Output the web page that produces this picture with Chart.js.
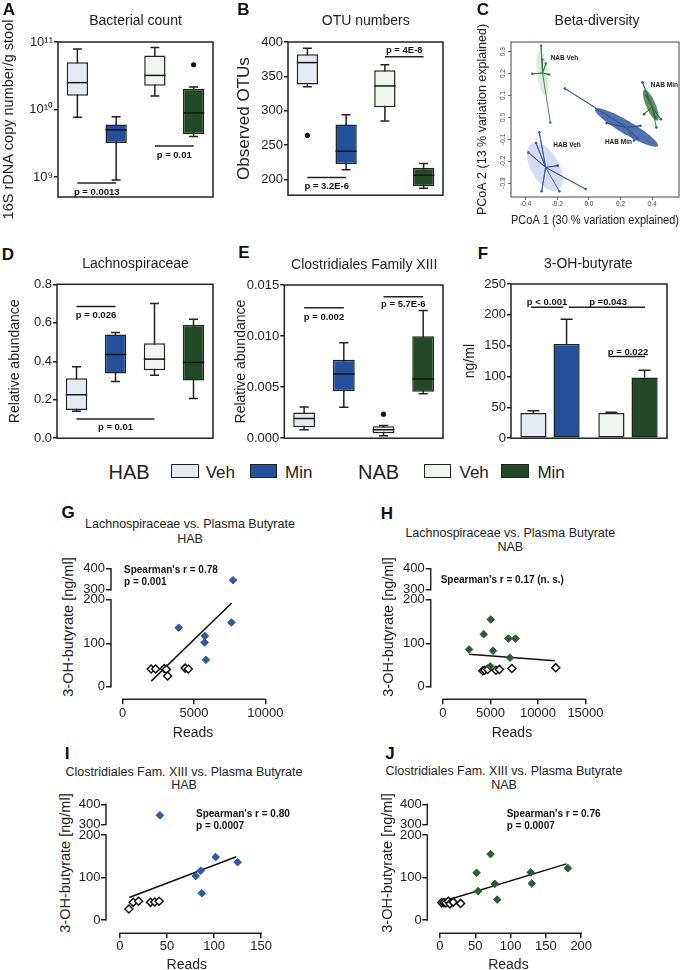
<!DOCTYPE html>
<html lang="en">
<head>
<meta charset="UTF-8">
<title>Microbiota, Lachnospiraceae and plasma butyrate</title>
<script src="https://cdn.jsdelivr.net/npm/chart.js"></script>
<style>
  html, body { margin: 0; padding: 0; background: #fff; overflow: hidden; }
  #fig { position: relative; width: 685px; height: 970px; overflow: hidden;
         font-family: "Liberation Sans", Arial, Helvetica, sans-serif; color: #222; }
  canvas, .t, .sw { position: absolute; }
  .t { white-space: nowrap; line-height: 1; transform: translate(-50%, -50%); }
  .letter { font-weight: bold; font-size: 17px; color: #111; }
  .ttl { font-size: 14px; }
  .sub { font-size: 12.5px; }
  .stat { font-weight: bold; font-size: 10px; color: #111; transform: translate(0, -50%); }
  .ylab { font-size: 14.5px; transform: translate(-50%, -50%) rotate(-90deg); }
  .legBig { font-size: 20px; transform: translate(0, -50%); }
  .leg { font-size: 17px; transform: translate(0, -50%); }
  .sw { border: 1.5px solid #222; box-sizing: border-box; height: 14px; top: 464px; }
</style>
</head>
<body>
<div id="fig"></div>
<script>
// ---------- data ----------
const groups = ['HAB Veh', 'HAB Min', 'NAB Veh', 'NAB Min'];
const groupFill = ['#e4ecf2', '#244f9b', '#f1f7ef', '#224925'];

// A  bacterial count
const aMin = [7.7e9, 9.0e8, 1.58e10, 4.0e9];
const aQ1  = [1.6e10, 3.2e9, 2.24e10, 4.3e9];
const aMed = [2.5e10, 5.0e9, 3.2e10, 8.9e9];
const aQ3  = [5.0e10, 6.0e9, 6.3e10, 2.03e10];
const aMax = [7.9e10, 7.8e9, 8.3e10, 2.15e10];
const aOutGroup = ['NAB Min'];
const aOutValue = [4.6e10];
const aTicks = [1e9, 1e10, 1e11];
const aTickLabels = ['10⁹', '10¹⁰', '10¹¹'];

// B  OTU numbers
const bMin = [335, 214, 285, 187];
const bQ1  = [338, 222, 305, 190];
const bMed = [370, 241, 336, 206];
const bQ3  = [382, 280, 359, 217];
const bMax = [391, 294, 367, 223];
const bOutGroup = ['HAB Veh'];
const bOutValue = [264];
const bTicks = [200, 250, 300, 350, 400];

// D  Lachnospiraceae
const dMin = [0.140, 0.295, 0.327, 0.207];
const dQ1  = [0.147, 0.336, 0.353, 0.300];
const dMed = [0.226, 0.435, 0.411, 0.394];
const dQ3  = [0.312, 0.539, 0.494, 0.589];
const dMax = [0.372, 0.550, 0.700, 0.618];
const dTicks = [0, 0.2, 0.4, 0.6, 0.8];

// E  Clostridiales Family XIII
const eMin = [0.00083, 0.00303, 0.00025, 0.00435];
const eQ1  = [0.00106, 0.00460, 0.00048, 0.00455];
const eMed = [0.00193, 0.00629, 0.00083, 0.00580];
const eQ3  = [0.00251, 0.00767, 0.00116, 0.00997];
const eMax = [0.00306, 0.00934, 0.00125, 0.01250];
const eOutGroup = ['NAB Veh'];
const eOutValue = [0.00235];
const eTicks = [0, 0.005, 0.010, 0.015];

// F  3-OH-butyrate (mean + SEM)
const fGroups = ['HAB', 'NAB'];
const fVehMean = [40.8, 40.8];
const fVehSem  = [3.7, 1.2];
const fMinMean = [152.6, 98.4];
const fMinSem  = [40.4, 11.6];
const fTicks = [0, 50, 100, 150, 200, 250];

// C  PCoA
const cXTicks = [-0.4, -0.2, 0, 0.2, 0.4];
const cYTicks = [-0.3, -0.2, -0.1, 0, 0.1, 0.2, 0.3];
const cGroups = ['NAB Veh', 'NAB Min', 'HAB Min', 'HAB Veh'];
const cCentroid = [[-0.293, 0.202], [0.400, 0.048], [0.238, -0.046], [-0.274, -0.228]];
const nabVehPC = [[-0.303, 0.327], [-0.295, 0.263], [-0.272, 0.246], [-0.358, 0.199], [-0.251, 0.196], [-0.244, -0.023]];
const nabMinPC = [[0.339, 0.160], [0.364, 0.098], [0.349, 0.015], [0.421, -0.003], [0.455, -0.008], [0.427, -0.046]];
const habMinPC = [[-0.152, 0.132], [0.112, -0.026], [0.326, -0.038], [0.307, -0.096], [0.286, -0.105]];
const habVehPC = [[-0.314, -0.068], [-0.335, -0.117], [-0.383, -0.160], [-0.198, -0.220], [-0.021, -0.327], [-0.299, -0.337], [-0.187, -0.337]];
const cEllCentre = [[-0.293, 0.202], [0.392, 0.056], [0.238, -0.046], [-0.278, -0.225]];
const cEllMajor  = [[0.017, -0.103], [0.042, -0.070], [0.198, -0.084], [0.084, -0.106]];
const cEllMinor  = [[0.034, 0.003], [-0.027, -0.009], [-0.021, -0.026], [-0.077, -0.032]];
const cLabelPos  = [[-0.242, 0.269], [0.392, 0.147], [0.101, -0.111], [-0.225, -0.129]];

// G  Lachnospiraceae reads vs butyrate, HAB
const gMinReads = [3925, 5760, 5740, 5830, 7620, 7730];
const gMinButyrate = [136, 117, 102, 62, 148, 345];
const gVehReads = [2000, 2310, 2920, 3060, 3150, 4380, 4600];
const gVehButyrate = [41, 41, 42, 40, 25, 43, 41];
const gFitReads = [2000, 7640];
const gFitButyrate = [13, 193];
const gXTicks = [0, 5000, 10000];

// H  Lachnospiraceae reads vs butyrate, NAB
const hMinReads = [2750, 4290, 5030, 5270, 6890, 7630, 7050, 4970];
const hMinButyrate = [86, 121, 155, 83, 111, 111, 67, 47];
const hVehReads = [4190, 4390, 4700, 5580, 5940, 7250, 11870];
const hVehButyrate = [37, 38, 40, 38, 40, 42, 44];
const hFitReads = [2750, 11770];
const hFitButyrate = [75, 60];
const hXTicks = [0, 5000, 10000, 15000];

// I  Clostridiales Fam. XIII reads vs butyrate, HAB
const iMinReads = [42.4, 80.5, 85.8, 101.7, 86.9, 125];
const iMinButyrate = [345, 103.5, 116, 148, 63, 136];
const iVehReads = [9.5, 14.1, 19.8, 32.5, 37, 41.6];
const iVehButyrate = [26, 41.6, 44, 41.6, 42.4, 44];
const iFitReads = [9.9, 123.6];
const iFitButyrate = [53, 149];
const iXTicks = [0, 50, 100, 150];

// J  Clostridiales Fam. XIII reads vs butyrate, NAB
const jMinReads = [51.8, 71.6, 54.1, 77.7, 81, 128.5, 130, 181];
const jMinButyrate = [111, 155, 68, 85, 48, 112, 86, 122];
const jVehReads = [2.4, 5.6, 8.5, 11.8, 14.1, 18.8, 29.2];
const jVehButyrate = [41, 41, 40, 44, 38, 42, 39];
const jFitReads = [14.1, 179];
const jFitButyrate = [48.7, 132];
const jXTicks = [0, 50, 100, 150, 200];

const butyrateBotTicks = [0, 100, 200];
const butyrateTopTicks = [300, 400];

// ---------- setup ----------
const FONT = "'Liberation Sans', Arial, Helvetica, sans-serif";
Chart.defaults.font.family = FONT;
Chart.defaults.color = '#222';
Chart.defaults.animation = false;
Chart.defaults.plugins.legend.display = false;
Chart.defaults.plugins.tooltip.enabled = false;

const fig = document.getElementById('fig');

function canvasAt(left, top, w, h) {
  const c = document.createElement('canvas');
  c.width = w; c.height = h;
  c.style.left = left + 'px'; c.style.top = top + 'px';
  c.style.width = w + 'px'; c.style.height = h + 'px';
  fig.appendChild(c);
  return c;
}

function text(cls, str, x, y, extra) {
  const d = document.createElement('div');
  d.className = 't ' + cls;
  d.textContent = str;
  d.style.left = x + 'px'; d.style.top = y + 'px';
  if (extra) Object.assign(d.style, extra);
  fig.appendChild(d);
}

const setTicks = list => s => { s.ticks = list.map(v => ({ value: v })); };

// ---------- plugins ----------
function framePlugin(color, width) {
  return {
    id: 'frame',
    afterDraw(ch) {
      const a = ch.chartArea, g = ch.ctx;
      g.save();
      g.strokeStyle = color; g.lineWidth = width;
      g.strokeRect(a.left, a.top, a.right - a.left, a.bottom - a.top);
      g.restore();
    }
  };
}

function boxPlugin(mins, meds, maxs) {
  return {
    id: 'boxes',
    beforeDatasetsDraw(ch) {
      const meta = ch.getDatasetMeta(0), ys = ch.scales.y, g = ch.ctx;
      g.save(); g.strokeStyle = '#222'; g.lineWidth = 1.5;
      meta.data.forEach((el, i) => {
        const cap = el.width * 0.21;
        const y0 = ys.getPixelForValue(mins[i]), y1 = ys.getPixelForValue(maxs[i]);
        g.beginPath();
        g.moveTo(el.x, y0); g.lineTo(el.x, y1);
        g.moveTo(el.x - cap, y0); g.lineTo(el.x + cap, y0);
        g.moveTo(el.x - cap, y1); g.lineTo(el.x + cap, y1);
        g.stroke();
      });
      g.restore();
    },
    afterDatasetsDraw(ch) {
      const meta = ch.getDatasetMeta(0), ys = ch.scales.y, g = ch.ctx;
      g.save(); g.strokeStyle = '#151515'; g.lineWidth = 1.5;
      meta.data.forEach((el, i) => {
        const y = ys.getPixelForValue(meds[i]);
        g.beginPath();
        g.moveTo(el.x - el.width / 2, y); g.lineTo(el.x + el.width / 2, y);
        g.stroke();
      });
      g.restore();
    }
  };
}

function pLinePlugin(list) {
  return {
    id: 'pLines',
    afterDatasetsDraw(ch) {
      const xs = ch.scales.x, ys = ch.scales.y, g = ch.ctx;
      g.save();
      g.strokeStyle = '#222'; g.lineWidth = 1.5; g.fillStyle = '#111';
      g.font = 'bold 9.5px ' + FONT; g.textAlign = 'center'; g.textBaseline = 'middle';
      list.forEach(p => {
        const x1 = xs.getPixelForValue(p.a), x2 = xs.getPixelForValue(p.b), y = ys.getPixelForValue(p.y);
        g.beginPath(); g.moveTo(x1, y); g.lineTo(x2, y); g.stroke();
        const tx = p.tx !== undefined ? xs.getPixelForValue(p.tx) : (x1 + x2) / 2;
        g.fillText(p.text, tx, y + p.dy);
      });
      g.restore();
    }
  };
}

function errPlugin(sems) {
  return {
    id: 'errBars',
    afterDatasetsDraw(ch) {
      const ys = ch.scales.y, g = ch.ctx;
      g.save(); g.strokeStyle = '#222'; g.lineWidth = 1.5;
      sems.forEach((arr, di) => {
        const meta = ch.getDatasetMeta(di);
        meta.data.forEach((el, i) => {
          const v = ch.data.datasets[di].data[i] + arr[i];
          const y = ys.getPixelForValue(v), cap = el.width * 0.23;
          g.beginPath();
          g.moveTo(el.x, el.y); g.lineTo(el.x, y);
          g.moveTo(el.x - cap, y); g.lineTo(el.x + cap, y);
          g.stroke();
        });
      });
      g.restore();
    }
  };
}

const axisLines = {
  id: 'axisLines',
  afterDraw(ch) {
    const g = ch.ctx;
    g.save(); g.strokeStyle = '#222'; g.lineWidth = 1.5; g.lineCap = 'square';
    Object.values(ch.scales).forEach(s => {
      if (!s.ticks.length) return;
      const p0 = s.getPixelForValue(s.ticks[0].value);
      const p1 = s.getPixelForValue(s.ticks[s.ticks.length - 1].value);
      g.beginPath();
      if (s.isHorizontal()) { g.moveTo(p0, s.top); g.lineTo(p1, s.top); }
      else { g.moveTo(s.right, p0); g.lineTo(s.right, p1); }
      g.stroke();
    });
    g.restore();
  }
};

// rotated (bottom-to-top) tick labels on the left axis, as R draws them
const rotatedYTicks = {
  id: 'rotatedYTicks',
  afterDraw(ch) {
    const s = ch.scales.y, g = ch.ctx;
    g.save();
    g.fillStyle = '#444'; g.font = '6.5px ' + FONT;
    g.textAlign = 'center'; g.textBaseline = 'middle';
    s.ticks.forEach(t => {
      g.save();
      g.translate(s.right - 8, s.getPixelForValue(t.value));
      g.rotate(-Math.PI / 2);
      g.fillText(t.value.toFixed(1), 0, 0);
      g.restore();
    });
    g.restore();
  }
};

// ---------- box plot panels ----------
function boxChart(cv, st, o) {
  const datasets = [{
    data: st.q1.map((q, i) => [q, st.q3[i]]),
    backgroundColor: groupFill, borderColor: '#222', borderWidth: 1.5,
    borderSkipped: false, barPercentage: 0.55, categoryPercentage: 1
  }];
  if (st.outG) datasets.push({
    type: 'scatter',
    data: st.outG.map((g, i) => ({ x: g, y: st.outV[i] })),
    pointRadius: 2.6, backgroundColor: '#111', borderWidth: 0
  });
  return new Chart(cv, {
    type: 'bar',
    data: { labels: groups, datasets },
    options: {
      responsive: false, devicePixelRatio: 1,
      layout: { padding: o.pad },
      scales: {
        x: { display: false },
        y: {
          type: o.type || 'linear', position: 'left', min: o.min, max: o.max,
          afterBuildTicks: setTicks(o.ticks),
          border: { display: false },
          grid: { drawOnChartArea: false, tickLength: 4, color: '#222', lineWidth: 1.5 },
          ticks: { font: { size: 13 }, color: '#222', padding: 1, callback: o.fmt },
          title: { display: true, text: o.title, font: { size: o.tSize }, padding: { top: o.tPad, bottom: 0 } },
          afterFit: s => { s.width = o.yW; }
        }
      }
    },
    plugins: [boxPlugin(st.min, st.med, st.max), pLinePlugin(o.pLines), framePlugin('#222', 1.5)]
  });
}

boxChart(canvasAt(0, 0, 220, 224),
  { min: aMin, q1: aQ1, med: aMed, q3: aQ3, max: aMax, outG: aOutGroup, outV: aOutValue },
  { type: 'logarithmic', min: 5.06e8, max: 1e11, ticks: aTicks, fmt: (v, i) => aTickLabels[i],
    pad: { top: 42, right: 7, bottom: 27, left: 0 }, yW: 58,
    title: '16S rDNA copy number/g stool', tSize: 14.5, tPad: 0,
    pLines: [{ a: 0, b: 1, y: 8.15e8, text: 'p = 0.0013', dy: 9 },
             { a: 2, b: 3, y: 2.88e9, text: 'p = 0.01', dy: 9 }] });

boxChart(canvasAt(228, 28, 220, 176),
  { min: bMin, q1: bQ1, med: bMed, q3: bQ3, max: bMax, outG: bOutGroup, outV: bOutValue },
  { min: 177, max: 400, ticks: bTicks, fmt: v => String(v),
    pad: { top: 14, right: 5, bottom: 7, left: 0 }, yW: 60,
    title: 'Observed OTUs', tSize: 17, tPad: 5.8,
    pLines: [{ a: 0, b: 1, y: 202.6, text: 'p = 3.2E-6', dy: 9 },
             { a: 2, b: 3, y: 378.4, text: 'p = 4E-8', dy: -6 }] });

boxChart(canvasAt(0, 270, 220, 177),
  { min: dMin, q1: dQ1, med: dMed, q3: dQ3, max: dMax },
  { min: 0, max: 0.8, ticks: dTicks, fmt: v => v.toFixed(1),
    pad: { top: 14.3, right: 7, bottom: 7.7, left: 0 }, yW: 57,
    title: 'Relative abundance', tSize: 14, tPad: 6.6,
    pLines: [{ a: 0, b: 1, y: 0.684, text: 'p = 0.026', dy: 8.3 },
             { a: 0, b: 2, y: 0.0996, text: 'p = 0.01', dy: 8.3 }] });

boxChart(canvasAt(228, 270, 220, 177),
  { min: eMin, q1: eQ1, med: eMed, q3: eQ3, max: eMax, outG: eOutGroup, outV: eOutValue },
  { min: 0, max: 0.015, ticks: eTicks, fmt: v => v.toFixed(3),
    pad: { top: 15, right: 5, bottom: 7.7, left: 0 }, yW: 56.3,
    title: 'Relative abundance', tSize: 14, tPad: 5.1,
    pLines: [{ a: 0, b: 1, y: 0.01277, text: 'p = 0.002', dy: 9.3 },
             { a: 2, b: 3, y: 0.01386, text: 'p = 5.7E-6', dy: 7.3 }] });

// ---------- F bars ----------
new Chart(canvasAt(458, 270, 227, 177), {
  type: 'bar',
  data: {
    labels: fGroups,
    datasets: [
      { data: fVehMean, backgroundColor: [groupFill[0], groupFill[2]], borderColor: '#222', borderWidth: 1.5,
        borderSkipped: false, categoryPercentage: 0.85, barPercentage: 0.79 },
      { data: fMinMean, backgroundColor: [groupFill[1], groupFill[3]], borderColor: '#222', borderWidth: 1.5,
        borderSkipped: false, categoryPercentage: 0.85, barPercentage: 0.79 }
    ]
  },
  options: {
    responsive: false, devicePixelRatio: 1,
    layout: { padding: { top: 14, right: 18, bottom: 7.7, left: 0 } },
    scales: {
      x: { display: false },
      y: {
        position: 'left', min: 0, max: 250, afterBuildTicks: setTicks(fTicks),
        border: { display: false },
        grid: { drawOnChartArea: false, tickLength: 4, color: '#222', lineWidth: 1.5 },
        ticks: { font: { size: 13 }, color: '#222', padding: 1, callback: v => String(v) },
        title: { display: true, text: 'ng/ml', font: { size: 14 }, padding: { top: 3.6, bottom: 0 } },
        afterFit: s => { s.width = 53; }
      }
    }
  },
  plugins: [errPlugin([fVehSem, fMinSem]),
    pLinePlugin([{ a: -0.244, b: 0.167, y: 212.3, text: 'p < 0.001', tx: -0.038, dy: -4.5 },
                 { a: 0.244, b: 1.218, y: 212.3, text: 'p =0.043', tx: 0.744, dy: -4.5 },
                 { a: 0.763, b: 1.22, y: 132.3, text: 'p = 0.022', tx: 1.0, dy: -4.5 }]),
    framePlugin('#222', 1.5)]
});

// ---------- C PCoA ----------
const cPts = [nabVehPC, nabMinPC, habMinPC, habVehPC];
const cLine = ['#3a7a4a', '#2f6a3c', '#2f55a0', '#3558a3'];
const cFill = ['rgba(208,228,205,0.75)', '#5b8f65', '#5270ad', 'rgba(204,213,240,0.8)'];
const ellipses = {
  id: 'ellipses',
  beforeDatasetsDraw(ch) {
    const xs = ch.scales.x, ys = ch.scales.y, g = ch.ctx;
    g.save();
    cEllCentre.forEach((c, k) => {
      const a = cEllMajor[k], b = cEllMinor[k];
      g.beginPath();
      for (let s = 0; s <= 72; s++) {
        const t = s / 72 * 2 * Math.PI;
        const px = xs.getPixelForValue(c[0] + a[0] * Math.cos(t) + b[0] * Math.sin(t));
        const py = ys.getPixelForValue(c[1] + a[1] * Math.cos(t) + b[1] * Math.sin(t));
        if (s) g.lineTo(px, py); else g.moveTo(px, py);
      }
      g.closePath(); g.fillStyle = cFill[k]; g.fill();
    });
    g.restore();
  },
  afterDatasetsDraw(ch) {
    const xs = ch.scales.x, ys = ch.scales.y, g = ch.ctx;
    g.save(); g.fillStyle = '#222'; g.font = 'bold 6.5px ' + FONT;
    g.textAlign = 'left'; g.textBaseline = 'middle';
    cLabelPos.forEach((p, k) => g.fillText(cGroups[k], xs.getPixelForValue(p[0]), ys.getPixelForValue(p[1])));
    g.restore();
  }
};
new Chart(canvasAt(458, 0, 232, 232), {
  type: 'scatter',
  data: {
    datasets: cPts.map((pts, k) => ({
      data: pts.flatMap(p => [{ x: cCentroid[k][0], y: cCentroid[k][1] }, { x: p[0], y: p[1] }]),
      showLine: true, borderColor: cLine[k], borderWidth: 0.9, backgroundColor: cLine[k],
      pointRadius: ctx => (ctx.dataIndex % 2 ? 1.3 : 0), pointBorderWidth: 0
    }))
  },
  options: {
    responsive: false, devicePixelRatio: 1,
    layout: { padding: { top: 42, right: 11, bottom: 0, left: 0 } },
    scales: {
      x: {
        min: -0.493, max: 0.57, afterBuildTicks: setTicks(cXTicks),
        border: { display: false },
        grid: { drawOnChartArea: false, tickLength: 3, color: '#444', lineWidth: 0.8 },
        ticks: { font: { size: 6.5 }, color: '#444', padding: 0.5, maxRotation: 0, callback: v => v.toFixed(1) },
        title: { display: true, text: 'PCoA 1 (30 % variation explained)', font: { size: 12 }, padding: { top: 0, bottom: 4.5 } },
        afterFit: s => { s.height = 35; }
      },
      y: {
        min: -0.363, max: 0.344, afterBuildTicks: setTicks(cYTicks),
        border: { display: false },
        grid: { drawOnChartArea: false, tickLength: 3, color: '#444', lineWidth: 0.8 },
        ticks: { display: false },
        title: { display: true, text: 'PCoA 2 (13 % variation explained)', font: { size: 12.5 }, padding: { top: 17.5, bottom: 0 } },
        afterFit: s => { s.width = 53; }
      }
    }
  },
  plugins: [ellipses, rotatedYTicks, framePlugin('#444', 1)]
});

// ---------- correlation panels ----------
function corrChart(cv, d) {
  const pts = (xs, ys, top) => xs.map((x, i) => ({ x, y: ys[i] })).filter(p => (top ? p.y > 250 : p.y <= 250));
  const filled = { pointStyle: 'rectRot', pointRadius: 3.8, backgroundColor: d.col, borderColor: d.col, borderWidth: 1 };
  const yBase = {
    type: 'linear', position: 'left', stack: 'y',
    border: { display: false },
    grid: { drawOnChartArea: false, tickLength: 5, color: '#222', lineWidth: 1.5 },
    ticks: { font: { size: 13 }, color: '#222', padding: d.yTickPad, callback: v => String(v) },
    afterFit: s => { s.width = d.yW; }
  };
  return new Chart(cv, {
    type: 'scatter',
    data: {
      datasets: [
        Object.assign({ data: pts(d.minX, d.minY, false), yAxisID: 'yBot' }, filled),
        Object.assign({ data: pts(d.minX, d.minY, true), yAxisID: 'yTop' }, filled),
        { data: pts(d.vehX, d.vehY, false), yAxisID: 'yBot', pointStyle: 'rectRot', pointRadius: 4,
          backgroundColor: '#fff', borderColor: '#111', borderWidth: 1.5 },
        { data: d.fitX.map((x, i) => ({ x, y: d.fitY[i] })), yAxisID: 'yBot', showLine: true,
          pointRadius: 0, borderColor: '#111', borderWidth: 1.5 }
      ]
    },
    options: {
      responsive: false, devicePixelRatio: 1,
      layout: { padding: d.pad },
      scales: {
        x: {
          type: 'linear', min: d.xMin, max: d.xMax, afterBuildTicks: setTicks(d.xTicks),
          border: { display: false },
          grid: { drawOnChartArea: false, tickLength: 5, color: '#222', lineWidth: 1.5 },
          ticks: { font: { size: 13 }, color: '#222', padding: d.xTickPad, maxRotation: 0, callback: v => String(v) },
          title: { display: true, text: 'Reads', font: { size: 14 }, padding: { top: 0, bottom: d.titlePad } },
          afterFit: s => { s.height = d.xH; }
        },
        yBot: Object.assign({}, yBase, { stackWeight: d.botW, weight: 0, min: d.botMin, max: 200,
          afterBuildTicks: setTicks(butyrateBotTicks) }),
        yTop: Object.assign({}, yBase, { stackWeight: d.topW, weight: 1, min: d.topMin, max: 400,
          afterBuildTicks: setTicks(butyrateTopTicks) })
      }
    },
    plugins: [axisLines]
  });
}

const habDot = '#2c5aa6', nabDot = '#2d5c31';
corrChart(canvasAt(80, 560, 205, 185), {
  minX: gMinReads, minY: gMinButyrate, vehX: gVehReads, vehY: gVehButyrate, fitX: gFitReads, fitY: gFitButyrate,
  col: habDot, xTicks: gXTicks, xMin: -816, xMax: 10680, pad: { top: 8, right: 5, bottom: 0, left: 0 },
  yW: 31, xH: 45.7, topW: 31.3, botW: 100, topMin: 250.9, botMin: -28.8, yTickPad: 1, xTickPad: 1.2, titlePad: 3.9 });
corrChart(canvasAt(400, 560, 205, 185), {
  minX: hMinReads, minY: hMinButyrate, vehX: hVehReads, vehY: hVehButyrate, fitX: hFitReads, fitY: hFitButyrate,
  col: nabDot, xTicks: hXTicks, xMin: -1293, xMax: 15808, pad: { top: 8, right: 5, bottom: 0, left: 0 },
  yW: 30.7, xH: 45.7, topW: 31.3, botW: 100, topMin: 250.9, botMin: -28.8, yTickPad: 1, xTickPad: 1.2, titlePad: 3.9 });
corrChart(canvasAt(75, 796, 198, 184), {
  minX: iMinReads, minY: iMinButyrate, vehX: iVehReads, vehY: iVehButyrate, fitX: iFitReads, fitY: iFitButyrate,
  col: habDot, xTicks: iXTicks, xMin: -14.8, xMax: 156.7, pad: { top: 8.3, right: 5, bottom: 0, left: 0 },
  yW: 31, xH: 46.7, topW: 30.7, botW: 98.3, topMin: 246.5, botMin: -31.3, yTickPad: 0.5, xTickPad: 0.6, titlePad: 6.6 });
corrChart(canvasAt(396, 796, 199, 184), {
  minX: jMinReads, minY: jMinButyrate, vehX: jVehReads, vehY: jVehButyrate, fitX: jFitReads, fitY: jFitButyrate,
  col: nabDot, xTicks: jXTicks, xMin: -17.9, xMax: 211.7, pad: { top: 8.3, right: 5, bottom: 0, left: 0 },
  yW: 31.3, xH: 46.7, topW: 30.7, botW: 98.3, topMin: 246.5, botMin: -31.3, yTickPad: 0.5, xTickPad: 0.6, titlePad: 6.6 });

// ---------- text ----------
[['A', 9, 9], ['B', 243.5, 9], ['C', 483, 8.5], ['D', 8, 254], ['E', 244, 252], ['F', 483, 253],
 ['G', 68, 512], ['H', 387, 513], ['I', 67, 753], ['J', 390, 753]].forEach(l => text('letter', l[0], l[1], l[2]));

text('ttl', 'Bacterial count', 135.5, 20);
text('ttl', 'OTU numbers', 365.8, 20);
text('ttl', 'Beta-diversity', 597, 20);
text('ttl', 'Lachnospiraceae', 135.5, 262.7);
text('ttl', 'Clostridiales Family XIII', 364.2, 264);
text('ttl', '3-OH-butyrate', 588.3, 263.3);

text('sub', 'Lachnospiraceae vs. Plasma Butyrate', 190, 524);
text('sub', 'HAB', 190, 539.3);
text('sub', 'Lachnospiraceae vs. Plasma Butyrate', 510.3, 532.7);
text('sub', 'NAB', 510.3, 546.7);
text('sub', 'Clostridiales Fam. XIII vs. Plasma Butyrate', 184, 771.7);
text('sub', 'HAB', 184, 785);
text('sub', 'Clostridiales Fam. XIII vs. Plasma Butyrate', 504, 770.7);
text('sub', 'NAB', 504, 785);

text('stat', "Spearman's r = 0.78", 124, 570);
text('stat', 'p = 0.001', 124, 582);
text('stat', "Spearman's r = 0.17 (n. s.)", 440.7, 580);
text('stat', "Spearman's r = 0.80", 196, 814);
text('stat', 'p = 0.0007', 196, 826);
text('stat', "Spearman's r = 0.76", 506.7, 814.3);
text('stat', 'p = 0.0007', 506.7, 826);

text('ylab', '3-OH-butyrate [ng/ml]', 68, 627);
text('ylab', '3-OH-butyrate [ng/ml]', 388, 627);
text('ylab', '3-OH-butyrate [ng/ml]', 65.4, 863);
text('ylab', '3-OH-butyrate [ng/ml]', 386.7, 863);

// legend
text('legBig', 'HAB', 108.5, 471.7);
text('leg', 'Veh', 205.7, 471.7);
text('leg', 'Min', 285, 471.7);
text('legBig', 'NAB', 358, 471.7);
text('leg', 'Veh', 459.5, 471.7);
text('leg', 'Min', 537.4, 471.7);
[[170.7, 28.3, 0], [250, 26.6, 1], [423.6, 27.2, 2], [501, 27.7, 3]].forEach(s => {
  const d = document.createElement('div');
  d.className = 'sw';
  d.style.left = s[0] + 'px'; d.style.width = s[1] + 'px'; d.style.background = groupFill[s[2]];
  fig.appendChild(d);
});
</script>
</body>
</html>
